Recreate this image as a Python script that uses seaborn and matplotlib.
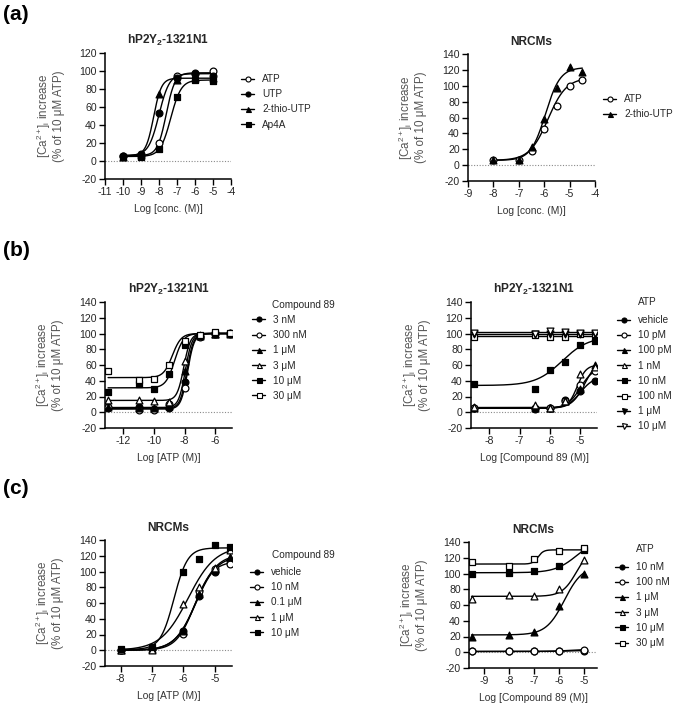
import numpy as np
import pandas as pd
import matplotlib
matplotlib.use("Agg")
import matplotlib.pyplot as plt
import seaborn as sns
from matplotlib.lines import Line2D

sns.set_theme(style="ticks")
plt.rcParams['font.family'] = ['Liberation Sans', 'DejaVu Sans']
plt.rcParams['mathtext.fontset'] = 'custom'
plt.rcParams['mathtext.rm'] = 'Liberation Sans'
plt.rcParams['mathtext.it'] = 'Liberation Sans:italic'
plt.rcParams['mathtext.bf'] = 'Liberation Sans:bold'
plt.rcParams['mathtext.default'] = 'regular'
plt.rcParams['axes.unicode_minus'] = False

# ---------------- data ----------------
# (a) left: hP2Y2-1321N1 agonists
a1_x = [-10, -9, -8, -7, -6, -5]
a1_labels = ["ATP", "UTP", "2-thio-UTP", "Ap4A"]
a1_ATP = [6, 6, 20, 94, 97, 100]
a1_UTP = [6, 8, 53, 92, 98, 95]
a1_2thioUTP = [5, 7, 74, 90, 92, 92]
a1_Ap4A = [5, 5, 13, 71, 90, 89]
a1_bottom = [6, 6, 6, 5]
a1_top = [98, 97, 92, 90]
a1_logec50 = [-7.6, -8.0, -8.3, -7.35]
a1_hill = [1.8, 1.5, 2.0, 1.5]

# (a) right: NRCMs agonists
a2_x = [-8, -7, -6.5, -6, -5.5, -5, -4.5]
a2_labels = ["ATP", "2-thio-UTP"]
a2_ATP = [7, 7, 18, 46, 75, 100, 107]
a2_2thioUTP = [6, 6, 23, 58, 97, 123, 117]
a2_bottom = [6, 6]
a2_top = [110, 123]
a2_logec50 = [-5.85, -5.95]
a2_hill = [1.2, 1.5]

# (b) left: ATP curves with Compound 89
b1_x = [-13, -11, -10, -9, -8, -7, -6, -5]
b1_labels = ["3 nM", "300 nM", "1 \u03bcM", "3 \u03bcM", "10 \u03bcM", "30 \u03bcM"]
b1_3nM = [5, 7, 4, 5, 38, 97, 100, 100]
b1_300nM = [7, 3, 3, 10, 31, 96, 101, 101]
b1_1uM = [7, 5, 5, 8, 53, 97, 100, 100]
b1_3uM = [15, 15, 14, 12.5, 65, 98, 100, 101]
b1_10uM = [26, 36, 30, 48, 86, 97, 99, 100]
b1_30uM = [53, 41, 42, 60, 91, 98, 102, 101]
b1_bottom = [5, 4, 6, 15, 31, 44]
b1_top = [100, 100, 100, 100, 100, 100]
b1_logec50 = [-7.85, -7.8, -7.95, -8.05, -8.65, -8.8]
b1_hill = [2, 2, 2, 2, 1.5, 1.5]

# (b) right: Compound 89 curves with ATP
b2_x = [-8.5, -6.5, -6, -5.5, -5, -4.5]
b2_labels = ["vehicle", "10 pM", "100 pM", "1 nM", "10 nM", "100 nM", "1 \u03bcM", "10 \u03bcM"]
b2_vehicle = [5, 4, 5, 15, 27, 40]
b2_10pM = [6, 5, 5, 14, 35, 52]
b2_100pM = [5, 5, 6, 14, 30, 60]
b2_1nM = [7, 9, 6, 14, 48, 58]
b2_10nM = [36.5, 30, 54, 64, 85, 91]
b2_100nM = [95, 98, 96, 95, 99, 100]
b2_1uM = [99, 99, 99, 99, 99, 99]
b2_10uM = [101, 100, 103, 102, 101, 101]
b2_bottom = [5, 5, 5, 6, 34, 97, 99, 101.5]
b2_top = [45, 57, 68, 60, 96, 97, 99, 101.5]
b2_logec50 = [-5.0, -5.0, -4.85, -5.1, -5.6, -6.0, -6.0, -6.0]
b2_hill = [2, 2, 2, 3, 1, 1, 1, 1]

# (c) left: NRCMs ATP curves with Compound 89
c1_x = [-8, -7, -6, -5.5, -5, -4.5]
c1_labels = ["vehicle", "10 nM", "0.1 \u03bcM", "1 \u03bcM", "10 \u03bcM"]
c1_vehicle = [0, 2, 25, 69, 100, 113]
c1_10nM = [0, 1, 21, 75, 103, 109]
c1_0p1uM = [0, 1, 25, 72, 103, 118]
c1_1uM = [0, 0, 59, 80, 105, 127]
c1_10uM = [2, 4, 99, 116, 134, 131]
c1_bottom = [0, 0, 0, 0, 1]
c1_top = [120, 113, 122, 132, 130]
c1_logec50 = [-5.6, -5.65, -5.6, -5.85, -6.3]
c1_hill = [1.3, 1.5, 1.3, 1.0, 2.0]

# (c) right: NRCMs Compound 89 curves with ATP
c2_x = [-9.5, -8, -7, -6, -5]
c2_labels = ["10 nM", "100 nM", "1 \u03bcM", "3 \u03bcM", "10 \u03bcM", "30 \u03bcM"]
c2_10nM = [1, 1, 1, 1, 2]
c2_100nM = [1, 1, 1, 1, 3]
c2_1uM = [20, 22, 26, 59, 100]
c2_3uM = [68, 73, 72, 80, 117]
c2_10uM = [100, 101, 103, 109, 130]
c2_30uM = [115, 109, 119, 129, 132]
c2_bottom = [1, 1, 22, 71, 101, 112]
c2_top = [2.5, 4, 110, 135, 145, 130]
c2_logec50 = [-5.5, -5.5, -5.8, -5.3, -5.3, -6.85]
c2_hill = [1, 1, 1.2, 1.5, 1, 4]

# marker styles: (marker, face)
STY = {
    'fo': ('o', 'black'), 'oo': ('o', 'white'),
    'f^': ('^', 'black'), 'o^': ('^', 'white'),
    'fs': ('s', 'black'), 'os': ('s', 'white'),
    'fv': ('v', 'black'), 'ov': ('v', 'white'),
}

W, H = 675, 707
fig = plt.figure(figsize=(6.75, 7.07), dpi=100)
TXT = '#262626'


def add_ax(x0, x1, y0, y1):
    return fig.add_axes([x0 / W, 1 - y1 / H, (x1 - x0) / W, (y1 - y0) / H])


def draw(ax, xs, series, styles, bottoms, tops, ec50s, hills, xlim, ylim,
         xticks, yticks, title, xlabel, ylab_y=0.5):
    ax.axhline(0, color='#8a8a8a', lw=0.8, ls=(0, (1, 1.5)), zorder=1)
    for ys, st, b, t, e, h in zip(series, styles, bottoms, tops, ec50s, hills):
        xc = np.linspace(min(xs), max(xs), 300)
        yc = b + (t - b) / (1 + 10 ** ((e - xc) * h))
        sns.lineplot(x=xc, y=yc, ax=ax, color='black', lw=1.0, legend=False,
                     zorder=2, estimator=None)
        m, fc = STY[st]
        sns.scatterplot(x=xs, y=ys, ax=ax, marker=m, s=24, color=fc,
                        edgecolor='black', linewidth=0.9, zorder=3, legend=False)
    ax.set_xlim(*xlim)
    ax.set_ylim(*ylim)
    ax.set_xticks(xticks)
    ax.set_yticks(yticks)
    sns.despine(ax=ax)
    for s in ['left', 'bottom']:
        ax.spines[s].set_linewidth(1.1)
        ax.spines[s].set_color('black')
    ax.tick_params(direction='out', length=4, width=1.0, color='black',
                   labelsize=7.6, labelcolor=TXT, pad=2)
    ax.set_title(title, fontsize=8.6, fontweight='bold', color=TXT, pad=6.5)
    ax.set_xlabel(xlabel, fontsize=7.4, color='#333333', labelpad=5)
    ax.set_ylabel("[Ca$^{2+}$]$_{i}$ increase\n(% of 10 \u03bcM ATP)",
                  fontsize=8.4, color='#555555', va='center', linespacing=1.0)
    ax.yaxis.set_label_coords(-0.44, ylab_y)


def legend(ax, styles, labels, hx, row1_y, title=None, title_y=None, tx=None):
    handles = []
    for st in styles:
        m, fc = STY[st]
        handles.append(Line2D([0], [0], color='black', lw=1.0, marker=m,
                              markersize=3.6, markerfacecolor=fc,
                              markeredgecolor='black', markeredgewidth=0.8))
    leg = ax.legend(handles, labels, loc='upper left',
                    bbox_to_anchor=(hx / W, 1 - (row1_y - 5) / H),
                    bbox_transform=fig.transFigure, frameon=False,
                    borderpad=0, borderaxespad=0, handlelength=1.3,
                    handletextpad=0.8, labelspacing=0.52, fontsize=7.2)
    for t in leg.get_texts():
        t.set_color(TXT)
    if title is not None:
        fig.text(tx / W, 1 - title_y / H, title, fontsize=7.2, color=TXT,
                 ha='left', va='center')


# (a) left
ax = add_ax(105, 231, 53, 179)
draw(ax, a1_x, [a1_ATP, a1_UTP, a1_2thioUTP, a1_Ap4A], ['oo', 'fo', 'f^', 'fs'],
     a1_bottom, a1_top, a1_logec50, a1_hill, (-11, -4), (-20, 120),
     range(-11, -3), range(-20, 121, 20), "hP2Y$_2$-1321N1", "Log [conc. (M)]")
legend(ax, ['oo', 'fo', 'f^', 'fs'], a1_labels, 241, 79)

# (a) right
ax = add_ax(468, 595, 54, 181)
draw(ax, a2_x, [a2_ATP, a2_2thioUTP], ['oo', 'f^'], a2_bottom, a2_top,
     a2_logec50, a2_hill, (-9, -4), (-20, 140), range(-9, -3),
     range(-20, 141, 20), "NRCMs", "Log [conc. (M)]")
legend(ax, ['oo', 'f^'], a2_labels, 603, 99)

# (b) left
ax = add_ax(105, 232, 302, 428)
b1_st = ['fo', 'oo', 'f^', 'o^', 'fs', 'os']
draw(ax, b1_x, [b1_3nM, b1_300nM, b1_1uM, b1_3uM, b1_10uM, b1_30uM], b1_st,
     b1_bottom, b1_top, b1_logec50, b1_hill, (-13.2, -4.9), (-20, 140),
     [-12, -10, -8, -6], range(-20, 141, 20), "hP2Y$_2$-1321N1", "Log [ATP (M)]")
legend(ax, b1_st, b1_labels, 252, 320, "Compound 89", 305, 272)

# (b) right
ax = add_ax(471, 597, 302, 428)
b2_st = ['fo', 'oo', 'f^', 'o^', 'fs', 'os', 'fv', 'ov']
draw(ax, b2_x, [b2_vehicle, b2_10pM, b2_100pM, b2_1nM, b2_10nM, b2_100nM,
                b2_1uM, b2_10uM], b2_st,
     b2_bottom, b2_top, b2_logec50, b2_hill, (-8.6, -4.45), (-20, 140),
     [-8, -7, -6, -5], range(-20, 141, 20), "hP2Y$_2$-1321N1",
     "Log [Compound 89 (M)]")
legend(ax, b2_st, b2_labels, 617, 320, "ATP", 302, 638)

# (c) left
ax = add_ax(105, 232, 540, 666)
c1_st = ['fo', 'oo', 'f^', 'o^', 'fs']
draw(ax, c1_x, [c1_vehicle, c1_10nM, c1_0p1uM, c1_1uM, c1_10uM], c1_st,
     c1_bottom, c1_top, c1_logec50, c1_hill, (-8.5, -4.45), (-20, 140),
     [-8, -7, -6, -5], range(-20, 141, 20), "NRCMs", "Log [ATP (M)]")
legend(ax, c1_st, c1_labels, 250, 572, "Compound 89", 555, 272)

# (c) right
ax = add_ax(469, 597, 542, 668)
c2_st = ['fo', 'oo', 'f^', 'o^', 'fs', 'os']
draw(ax, c2_x, [c2_10nM, c2_100nM, c2_1uM, c2_3uM, c2_10uM, c2_30uM], c2_st,
     c2_bottom, c2_top, c2_logec50, c2_hill, (-9.6, -4.5), (-20, 140),
     [-9, -8, -7, -6, -5], range(-20, 141, 20), "NRCMs",
     "Log [Compound 89 (M)]")
legend(ax, c2_st, c2_labels, 615, 567, "ATP", 549, 636)

# panel labels
for lab, yp in [("(a)", 15), ("(b)", 250), ("(c)", 488)]:
    fig.text(3 / W, 1 - yp / H, lab, fontsize=15, fontweight='bold',
             color='black', ha='left', va='center')

fig.savefig("out.png", dpi=100)
